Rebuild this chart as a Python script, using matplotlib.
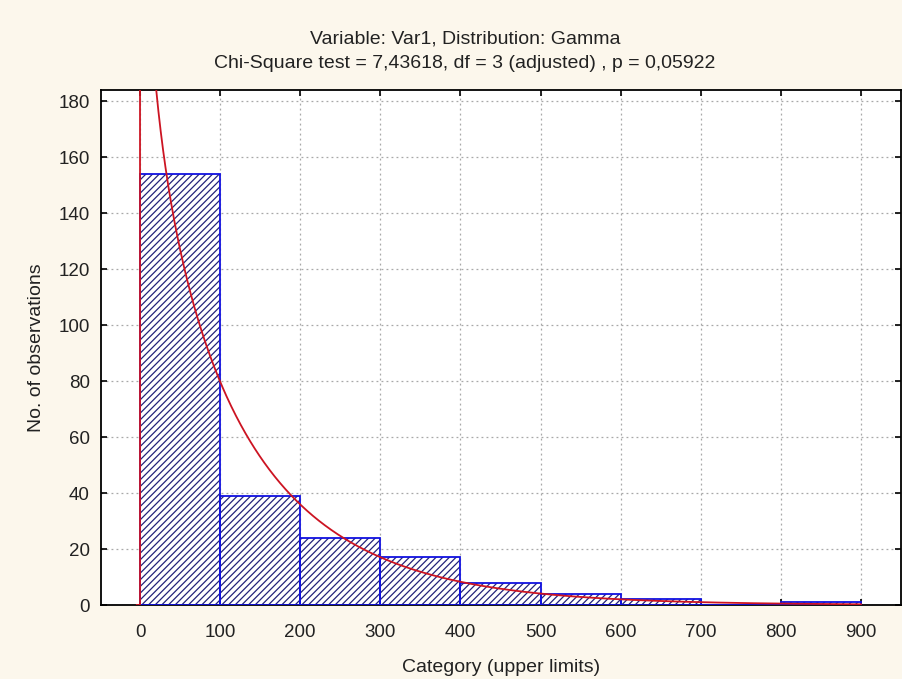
import math
import numpy as np
import matplotlib
matplotlib.use("Agg")
import matplotlib.pyplot as plt

# ---- data ----
bin_left = [0, 100, 200, 300, 400, 500, 600, 700, 800]
counts = [154, 39, 24, 17, 8, 4, 2, 0, 1]
bin_width = 100
# fitted gamma distribution (shape, scale)
gamma_shape = 0.81
gamma_scale = 150.0
x_ticks = [0, 100, 200, 300, 400, 500, 600, 700, 800, 900]
y_ticks = [0, 20, 40, 60, 80, 100, 120, 140, 160, 180]
title1 = "Variable: Var1, Distribution: Gamma"
title2 = "Chi-Square test = 7,43618, df = 3 (adjusted) , p = 0,05922"
xlabel = "Category (upper limits)"
ylabel = "No. of observations"

plt.rcParams['font.family'] = ['Liberation Sans', 'DejaVu Sans']
plt.rcParams['hatch.linewidth'] = 0.9

txt = '#222222'
bg = '#FCF7EC'
fig = plt.figure(figsize=(9.03, 6.79), dpi=100, facecolor=bg)
ax = fig.add_axes([101/903, 74/679, 800/903, 515/679])
ax.set_facecolor('white')

# hatched fill layer
ax.bar(bin_left, counts, width=bin_width, align='edge', color='white',
       edgecolor='#23237a', hatch='/////', linewidth=0, zorder=2)
# outline layer
ax.bar(bin_left, counts, width=bin_width, align='edge', fill=False,
       edgecolor='#1010e0', linewidth=1.3, zorder=3)

# fitted curve: expected counts per bin = N * width * pdf(x)
N = sum(counts)
xs = np.concatenate([np.linspace(-4, 0, 3), np.linspace(0.05, 20, 400), np.linspace(20, 900, 1200)])
pdf = np.where(xs > 0,
               np.power(np.clip(xs, 1e-9, None), gamma_shape - 1) * np.exp(-np.clip(xs, 0, None) / gamma_scale)
               / (math.gamma(gamma_shape) * gamma_scale ** gamma_shape),
               0.0)
ax.plot(xs, N * bin_width * pdf, color='#cc1422', linewidth=1.3, zorder=4)

ax.set_xlim(-48.7, 950)
ax.set_ylim(0, 184)
ax.set_xticks(x_ticks)
ax.set_yticks(y_ticks)
ax.grid(True, linestyle=(0, (1.5, 2.5)), color='#a8a8a8', linewidth=0.9, zorder=1)
ax.set_axisbelow(True)
ax.tick_params(direction='in', top=True, right=True, length=4, width=1.2,
               labelsize=13.5, colors='black', labelcolor=txt, pad=8)
ax.tick_params(axis='x', pad=14)
for sp in ax.spines.values():
    sp.set_linewidth(1.3)
    sp.set_color('black')

ax.set_xlabel(xlabel, fontsize=14, labelpad=13, color=txt)
ax.set_ylabel(ylabel, fontsize=14, labelpad=10, color=txt)

fig.text(465/903, 1 - 39/679, title1, ha='center', va='center', fontsize=14, color=txt)
fig.text(465/903, 1 - 64/679, title2, ha='center', va='center', fontsize=14, color=txt)

fig.savefig('out.png', dpi=100, facecolor=bg)
